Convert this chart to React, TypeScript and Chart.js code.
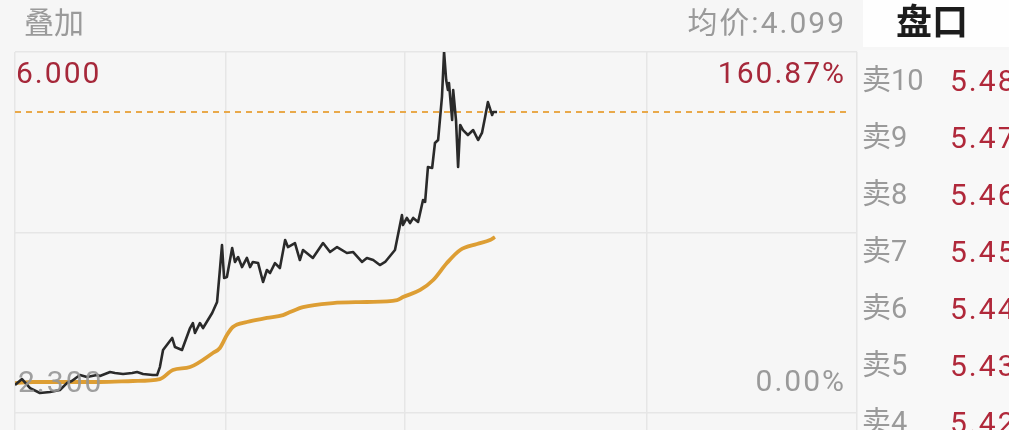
import React, { useEffect, useRef } from "react";
import { Chart, registerables } from "chart.js";

Chart.register(...registerables);

// Intraday trade minutes (0 = open, 240 = close) and prices
const priceMinutes = [
  0, 2.0, 4.3, 7.1, 10.0, 12.8, 14.8, 16.2, 18.5, 20.5,
  23.4, 24.2, 27.1, 28.5, 30.8, 33.4, 34.8, 36.5, 39.3, 40.5,
  41.3, 42.2, 44.8, 45.6, 47.6, 49.9, 50.7, 51.3, 52.7, 53.6,
  56.2, 57.6, 58.4, 59.0, 59.6, 60.4, 61.9, 62.7, 63.6, 64.7,
  66.1, 67.0, 67.8, 69.3, 70.7, 71.8, 72.7, 74.1, 75.5, 77.0,
  77.8, 79.8, 81.2, 82.1, 84.9, 87.8, 89.8, 91.8, 94.6, 96.4,
  98.9, 100.3, 102.1, 104.0, 105.5, 108.3, 110.3, 110.6, 111.7, 112.6,
  113.5, 114.9, 116.3, 116.9, 117.7, 118.9, 119.7, 120.6, 121.7, 122.3,
  122.9, 123.4, 123.7, 124.6, 124.9, 125.7, 126.3, 126.9, 127.7, 129.1,
  130.6, 132.0, 133.1, 134.0, 134.8, 136.0, 136.3, 137.4,
];
const prices = [
  2.587, 2.648, 2.556, 2.505, 2.515, 2.536, 2.607, 2.628, 2.689, 2.669,
  2.689, 2.679, 2.72, 2.71, 2.7, 2.71, 2.72, 2.7, 2.689, 2.689,
  2.771, 2.946, 3.069, 2.976, 2.946, 3.171, 3.222, 3.12, 3.222, 3.171,
  3.325, 3.438, 3.766, 4.022, 3.684, 3.694, 3.991, 3.848, 3.899, 3.796,
  3.889, 3.796, 3.848, 3.837, 3.643, 3.766, 3.735, 3.837, 3.786, 4.073,
  4.001, 4.042, 3.868, 3.971, 3.889, 4.042, 3.95, 4.001, 3.94, 3.95,
  3.848, 3.889, 3.868, 3.817, 3.848, 3.971, 4.329, 4.227, 4.299, 4.247,
  4.299, 4.258, 4.483, 4.463, 4.821, 4.811, 5.067, 5.098, 5.539, 6.0,
  5.713, 5.61, 5.682, 5.303, 5.61, 5.303, 4.821, 5.252, 5.2, 5.149,
  5.2, 5.098, 5.17, 5.334, 5.487, 5.354, 5.385, 5.385,
];

// Average price line
const avgMinutes = [
  0, 5.1, 14.8, 24.2, 33.6, 41.3, 45.0, 49.9, 56.4, 58.4,
  60.4, 62.1, 66.1, 71.8, 76.4, 78.4, 82.1, 90.6, 100.3, 108.9,
  110.6, 115.5, 119.2, 123.1, 126.9, 131.7, 135.4, 136.8,
];
const avgPrices = [
  2.607, 2.618, 2.618, 2.618, 2.628, 2.648, 2.741, 2.771, 2.915, 2.966,
  3.099, 3.181, 3.233, 3.274, 3.304, 3.335, 3.386, 3.427, 3.438, 3.458,
  3.489, 3.561, 3.663, 3.837, 3.971, 4.032, 4.073, 4.104,
];

const lastPrice = 5.385;
const priceMax = 6.0;
const priceBase = 2.3;
const priceMid = 4.15;
const xGridMinutes = [0, 60, 111, 180, 240];

const topPriceLabel = "6.000";
const topPctLabel = "160.87%";
const basePriceLabel = "2.300";
const basePctLabel = "0.00%";
const avgLabel = "均价:4.099";
const overlayLabel = "叠加";
const panelTitle = "盘口";
const askLabels = ["卖10", "卖9", "卖8", "卖7", "卖6", "卖5", "卖4"];
const askPrices = ["5.48", "5.47", "5.46", "5.45", "5.44", "5.43", "5.42"];

const FONT = 'Roboto, "Noto Sans CJK SC", sans-serif';

function txt(style: React.CSSProperties): React.CSSProperties {
  return {
    position: "absolute",
    lineHeight: 1,
    whiteSpace: "nowrap",
    fontFamily: FONT,
    ...style,
  };
}

export default function App() {
  const ref = useRef<HTMLCanvasElement>(null);

  useEffect(() => {
    const priceData = priceMinutes.map((m, i) => ({ x: m, y: prices[i] }));
    const avgData = avgMinutes.map((m, i) => ({ x: m, y: avgPrices[i] }));
    const lastData = [
      { x: 0, y: lastPrice },
      { x: 237, y: lastPrice },
    ];
    const gridOpts = {
      color: "#e6e6e6",
      lineWidth: 1.5,
      drawTicks: false,
    };
    const chart = new Chart(ref.current!, {
      type: "line",
      data: {
        datasets: [
          {
            data: priceData,
            borderColor: "#2a2a2a",
            borderWidth: 2.6,
            pointRadius: 0,
            tension: 0,
            borderJoinStyle: "round",
          },
          {
            data: avgData,
            borderColor: "#dd9e34",
            borderWidth: 3.8,
            pointRadius: 0,
            cubicInterpolationMode: "monotone",
          },
          {
            data: lastData,
            borderColor: "#e9a94a",
            borderWidth: 2,
            borderDash: [6, 5],
            pointRadius: 0,
          },
        ],
      },
      options: {
        responsive: false,
        animation: false,
        events: [],
        layout: {
          autoPadding: false,
          padding: { left: 15, right: 152, top: 52, bottom: 0 },
        },
        plugins: {
          legend: { display: false },
          tooltip: { enabled: false },
        },
        scales: {
          x: {
            type: "linear",
            min: 0,
            max: 240,
            afterBuildTicks: (s: any) => {
              s.ticks = xGridMinutes.map((v) => ({ value: v }));
            },
            ticks: { display: false },
            grid: gridOpts,
            border: { display: false },
          },
          y: {
            type: "linear",
            min: 2.126,
            max: priceMax,
            afterBuildTicks: (s: any) => {
              s.ticks = [priceBase, priceMid, priceMax].map((v) => ({ value: v }));
            },
            ticks: { display: false },
            grid: gridOpts,
            border: { display: false },
          },
        },
      },
    } as any);
    return () => chart.destroy();
  }, []);

  const digit = { letterSpacing: "2px" };

  return (
    <div
      style={{
        position: "absolute",
        left: 0,
        top: 0,
        width: 1009,
        height: 430,
        background: "#f6f6f6",
        overflow: "hidden",
      }}
    >
      <div
        style={{
          position: "absolute",
          left: 863,
          top: 0,
          width: 146,
          height: 47,
          background: "#fefefe",
        }}
      />
      <div
        style={{
          position: "absolute",
          left: 858,
          top: 50,
          width: 151,
          height: 380,
          background: "#f8f8f8",
        }}
      />
      <canvas
        ref={ref}
        width={1009}
        height={430}
        style={{ position: "absolute", left: 0, top: 0, width: 1009, height: 430 }}
      />
      <div style={txt({ left: 24, top: 8, fontSize: 30, color: "#9a9a9a" })}>{overlayLabel}</div>
      <div style={txt({ right: 163, top: 8, fontSize: 30, color: "#9a9a9a", ...digit })}>{avgLabel}</div>
      <div style={txt({ left: 896, top: 5, fontSize: 36, fontWeight: 700, color: "#1c1c1c" })}>{panelTitle}</div>
      <div style={txt({ left: 16, top: 58, fontSize: 30, color: "#a6283a", ...digit })}>{topPriceLabel}</div>
      <div style={txt({ right: 163, top: 58, fontSize: 30, color: "#a6283a", ...digit })}>{topPctLabel}</div>
      <div style={txt({ left: 18, top: 367, fontSize: 30, color: "rgba(150,150,150,0.9)", ...digit })}>{basePriceLabel}</div>
      <div style={txt({ right: 163, top: 366, fontSize: 30, color: "#9a9a9a", ...digit })}>{basePctLabel}</div>
      {askLabels.map((l, i) => (
        <React.Fragment key={l}>
          <div style={txt({ left: 862, top: 66 + i * 57, fontSize: 29, color: "#9a9a9a" })}>{l}</div>
          <div style={txt({ left: 950, top: 66 + i * 57, fontSize: 30, color: "#b0283a", ...digit })}>{askPrices[i]}</div>
        </React.Fragment>
      ))}
    </div>
  );
}
